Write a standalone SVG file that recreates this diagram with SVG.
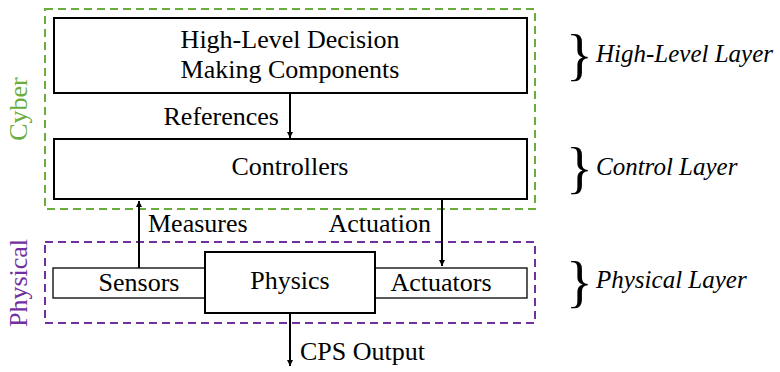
<svg xmlns="http://www.w3.org/2000/svg" width="780" height="372" viewBox="0 0 780 372">
<defs>
<style>
.box{fill:#fff;stroke:#000;stroke-width:2}
.thin{fill:#fff;stroke:#000;stroke-width:1.3}
.cn{stroke:#000;stroke-width:2;fill:none}
</style>
<marker id="ah" viewBox="0 0 10 10" refX="10" refY="5" markerWidth="6" markerHeight="6" markerUnits="userSpaceOnUse" orient="auto">
<path d="M0,0 L10,5 L0,10 Z" fill="#000"/>
</marker>
</defs>
<rect x="45" y="9" width="490" height="200" fill="none" stroke="#6aad3c" stroke-width="2" stroke-dasharray="8,5"/>
<rect x="45" y="242" width="490" height="81" fill="none" stroke="#7030a0" stroke-width="2" stroke-dasharray="8,5"/>
<text font-family="Liberation Serif" font-size="26" text-anchor="middle" transform="translate(27,109) rotate(-90)" fill="#6aad3c">Cyber</text>
<text font-family="Liberation Serif" font-size="26" text-anchor="middle" transform="translate(27,283) rotate(-90)" fill="#7030a0">Physical</text>
<g id="connectors">
<line class="cn" x1="290" y1="93" x2="290" y2="138" marker-end="url(#ah)"/>
<line class="cn" x1="442" y1="199" x2="442" y2="266" marker-end="url(#ah)"/>
<line class="cn" x1="139" y1="268" x2="139" y2="201" marker-end="url(#ah)"/>
<line class="cn" x1="290" y1="313" x2="290" y2="366" marker-end="url(#ah)"/>
<text font-family="Liberation Serif" font-size="26" x="279" y="125" text-anchor="end">References</text>
<text font-family="Liberation Serif" font-size="26" x="148" y="232">Measures</text>
<text font-family="Liberation Serif" font-size="26" x="431" y="232" text-anchor="end">Actuation</text>
<text font-family="Liberation Serif" font-size="26" x="300" y="360">CPS Output</text>
</g>
<g id="highlevel">
<rect class="box" x="54" y="18" width="473" height="75"/>
<text font-family="Liberation Serif" font-size="26" x="290" y="48" text-anchor="middle">High-Level Decision</text>
<text font-family="Liberation Serif" font-size="26" x="290" y="78" text-anchor="middle">Making Components</text>
</g>
<g id="controllers">
<rect class="box" x="54" y="139" width="473" height="60"/>
<text font-family="Liberation Serif" font-size="26" x="290" y="175" text-anchor="middle">Controllers</text>
</g>
<g id="sensors">
<rect class="thin" x="53" y="268" width="152" height="30"/>
<text font-family="Liberation Serif" font-size="26" x="139" y="291" text-anchor="middle">Sensors</text>
</g>
<g id="actuators">
<rect class="thin" x="375" y="268" width="152" height="30"/>
<text font-family="Liberation Serif" font-size="26" x="441" y="291" text-anchor="middle">Actuators</text>
</g>
<g id="physics">
<rect class="box" x="205" y="252" width="170" height="61"/>
<text font-family="Liberation Serif" font-size="26" x="290" y="289" text-anchor="middle">Physics</text>
</g>
<g id="layers">
<text font-family="Liberation Serif" font-size="56" x="566" y="74">}</text>
<text font-family="Liberation Serif" font-size="25" font-style="italic" x="596" y="62">High-Level Layer</text>
<text font-family="Liberation Serif" font-size="56" x="566" y="187">}</text>
<text font-family="Liberation Serif" font-size="25" font-style="italic" x="596" y="175">Control Layer</text>
<text font-family="Liberation Serif" font-size="56" x="566" y="301">}</text>
<text font-family="Liberation Serif" font-size="25" font-style="italic" x="596" y="288">Physical Layer</text>
</g>
</svg>
